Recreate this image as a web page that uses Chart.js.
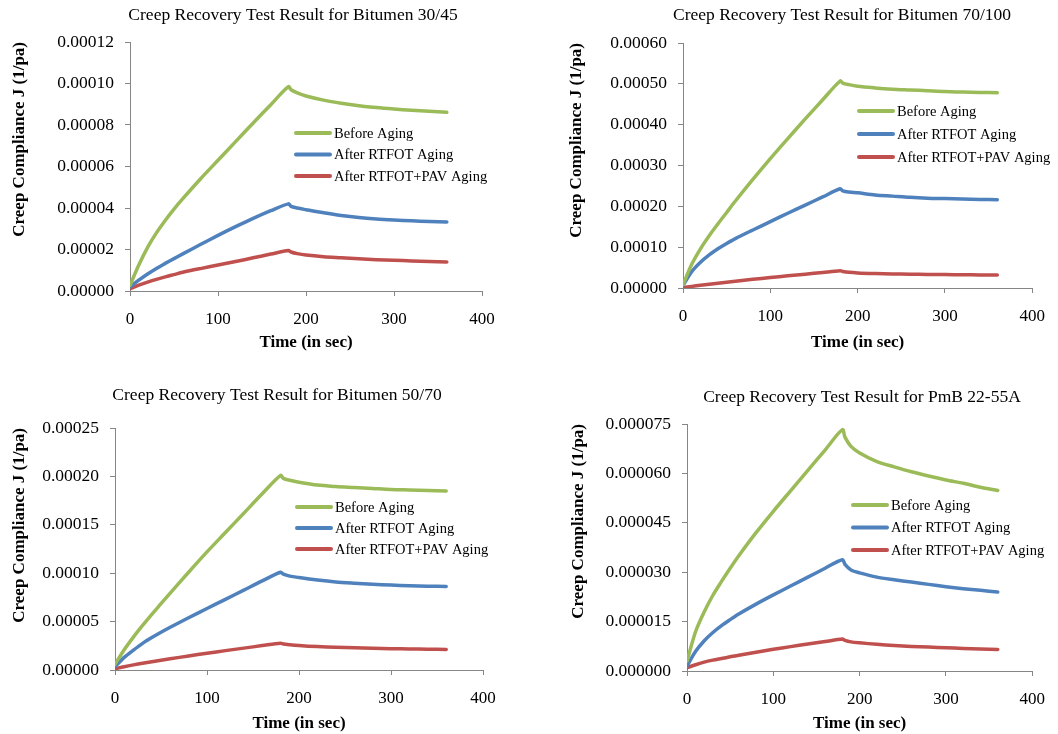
<!DOCTYPE html>
<html>
<head>
<meta charset="utf-8">
<script src="https://cdn.jsdelivr.net/npm/chart.js@4.4.1/dist/chart.umd.min.js"></script>
<style>
  html, body { margin: 0; padding: 0; background: #fff; }
  #wrap { position: relative; width: 1058px; height: 734px; }
  #wrap canvas { position: absolute; }
</style>
</head>
<body>
<div id="wrap">
  <canvas id="c3045" width="529" height="367" style="left:0;top:0"></canvas>
  <canvas id="c70100" width="529" height="367" style="left:529px;top:0"></canvas>
  <canvas id="c5070" width="529" height="367" style="left:0;top:367px"></canvas>
  <canvas id="cPmb" width="529" height="367" style="left:529px;top:367px"></canvas>
</div>
<script>
// Data (time in s, compliance in 1/Pa)
const times = [0, 10, 20, 30, 40, 50, 60, 80, 100, 120, 140, 160, 180, 183, 190, 200, 220, 240, 260, 280, 300, 320, 340, 360];
const seriesLabels = ['Before Aging', 'After RTFOT Aging', 'After RTFOT+PAV Aging'];
const seriesColors = ['#9BBB59', '#4F81BD', '#C0504D'];
const xTicks = [0, 100, 200, 300, 400];

// Bitumen 30/45
const b3045Before = [2.7e-6, 1.25e-5, 2.1e-5, 2.8e-5, 3.4e-5, 3.95e-5, 4.45e-5, 5.4e-5, 6.3e-5, 7.2e-5, 8.1e-5, 8.98e-5, 9.85e-5, 9.7e-5, 9.55e-5, 9.4e-5, 9.2e-5, 9.05e-5, 8.93e-5, 8.84e-5, 8.77e-5, 8.71e-5, 8.66e-5, 8.61e-5];
const b3045Rtfot = [1.9e-6, 5.2e-6, 8.2e-6, 1.09e-5, 1.33e-5, 1.56e-5, 1.79e-5, 2.24e-5, 2.68e-5, 3.1e-5, 3.5e-5, 3.87e-5, 4.2e-5, 4.08e-5, 4.0e-5, 3.92e-5, 3.77e-5, 3.64e-5, 3.54e-5, 3.47e-5, 3.42e-5, 3.38e-5, 3.35e-5, 3.33e-5];
const b3045Pav = [1.1e-6, 2.8e-6, 4.3e-6, 5.6e-6, 6.8e-6, 7.9e-6, 9e-6, 1.08e-5, 1.25e-5, 1.42e-5, 1.6e-5, 1.78e-5, 1.95e-5, 1.88e-5, 1.8e-5, 1.73e-5, 1.65e-5, 1.6e-5, 1.55e-5, 1.51e-5, 1.48e-5, 1.45e-5, 1.42e-5, 1.4e-5];
const yTicks3045 = [0, 0.00002, 0.00004, 0.00006, 0.00008, 0.0001, 0.00012];

// Bitumen 70/100
const b70100Before = [8e-6, 5.8e-5, 9.6e-5, 1.28e-4, 1.57e-4, 1.85e-4, 2.13e-4, 2.66e-4, 3.17e-4, 3.66e-4, 4.14e-4, 4.61e-4, 5.07e-4, 5.02e-4, 4.98e-4, 4.94e-4, 4.9e-4, 4.87e-4, 4.85e-4, 4.83e-4, 4.81e-4, 4.8e-4, 4.79e-4, 4.78e-4];
const b70100Rtfot = [6.5e-6, 4.0e-5, 6.3e-5, 8.1e-5, 9.6e-5, 1.09e-4, 1.21e-4, 1.42e-4, 1.625e-4, 1.83e-4, 2.03e-4, 2.23e-4, 2.43e-4, 2.38e-4, 2.35e-4, 2.33e-4, 2.28e-4, 2.25e-4, 2.22e-4, 2.2e-4, 2.19e-4, 2.18e-4, 2.17e-4, 2.16e-4];
const b70100Pav = [1e-6, 4e-6, 6.8e-6, 9.4e-6, 1.19e-5, 1.43e-5, 1.66e-5, 2.12e-5, 2.56e-5, 2.98e-5, 3.39e-5, 3.8e-5, 4.2e-5, 4.05e-5, 3.85e-5, 3.7e-5, 3.55e-5, 3.45e-5, 3.38e-5, 3.32e-5, 3.28e-5, 3.24e-5, 3.2e-5, 3.18e-5];
const yTicks70100 = [0, 0.0001, 0.0002, 0.0003, 0.0004, 0.0005, 0.0006];

// Bitumen 50/70
const b5070Before = [6e-6, 2.1e-5, 3.4e-5, 4.6e-5, 5.75e-5, 6.85e-5, 7.95e-5, 1.01e-4, 1.22e-4, 1.42e-4, 1.62e-4, 1.82e-4, 2.01e-4, 1.98e-4, 1.96e-4, 1.94e-4, 1.91e-4, 1.895e-4, 1.885e-4, 1.875e-4, 1.865e-4, 1.86e-4, 1.855e-4, 1.85e-4];
const b5070Rtfot = [3.5e-6, 1.3e-5, 2.05e-5, 2.75e-5, 3.35e-5, 3.9e-5, 4.42e-5, 5.4e-5, 6.35e-5, 7.3e-5, 8.25e-5, 9.2e-5, 1.01e-4, 9.9e-5, 9.7e-5, 9.55e-5, 9.3e-5, 9.1e-5, 8.97e-5, 8.86e-5, 8.77e-5, 8.7e-5, 8.66e-5, 8.62e-5];
const b5070Pav = [1.2e-6, 3.4e-6, 5.3e-6, 7.0e-6, 8.6e-6, 1.01e-5, 1.16e-5, 1.45e-5, 1.73e-5, 2.0e-5, 2.26e-5, 2.52e-5, 2.77e-5, 2.68e-5, 2.6e-5, 2.52e-5, 2.42e-5, 2.35e-5, 2.3e-5, 2.25e-5, 2.2e-5, 2.18e-5, 2.15e-5, 2.13e-5];
const yTicks5070 = [0, 0.00005, 0.0001, 0.00015, 0.0002, 0.00025];

// PmB 22-55A
const pmbBefore = [3e-6, 1.2e-5, 1.8e-5, 2.3e-5, 2.72e-5, 3.12e-5, 3.5e-5, 4.2e-5, 4.85e-5, 5.47e-5, 6.09e-5, 6.71e-5, 7.33e-5, 7.1e-5, 6.82e-5, 6.62e-5, 6.36e-5, 6.2e-5, 6.05e-5, 5.92e-5, 5.8e-5, 5.7e-5, 5.58e-5, 5.48e-5];
const pmbRtfot = [1.5e-6, 6e-6, 9.2e-6, 1.17e-5, 1.38e-5, 1.56e-5, 1.73e-5, 2.03e-5, 2.31e-5, 2.58e-5, 2.85e-5, 3.12e-5, 3.38e-5, 3.24e-5, 3.07e-5, 2.98e-5, 2.85e-5, 2.77e-5, 2.7e-5, 2.63e-5, 2.56e-5, 2.5e-5, 2.45e-5, 2.4e-5];
const pmbPav = [1e-6, 1.9e-6, 2.7e-6, 3.3e-6, 3.8e-6, 4.3e-6, 4.8e-6, 5.7e-6, 6.6e-6, 7.4e-6, 8.2e-6, 8.95e-6, 9.7e-6, 9.3e-6, 8.85e-6, 8.55e-6, 8.1e-6, 7.75e-6, 7.45e-6, 7.25e-6, 7.05e-6, 6.85e-6, 6.7e-6, 6.56e-6];
const yTicksPmb = [0, 0.000015, 0.00003, 0.000045, 0.00006, 0.000075];

const SERIF = '"Times New Roman", "Liberation Serif", serif';
const AXIS_GRAY = '#868686';

// title + in-plot legend, drawn after the chart
const panelDecor = {
  id: 'panelDecor',
  afterDraw(chart, args, opts) {
    const ctx = chart.ctx;
    ctx.save();
    ctx.fillStyle = '#000';
    ctx.textBaseline = 'middle';
    ctx.font = '17.5px ' + SERIF;
    ctx.textAlign = 'center';
    ctx.fillText(opts.title, opts.titleX, opts.titleY);

    ctx.font = '14.5px ' + SERIF;
    ctx.textAlign = 'left';
    chart.data.datasets.forEach((ds, i) => {
      const y = opts.legendY + i * opts.legendGap;
      ctx.strokeStyle = ds.borderColor;
      ctx.lineWidth = 4;
      ctx.lineCap = 'round';
      ctx.beginPath();
      ctx.moveTo(opts.legendX, y);
      ctx.lineTo(opts.legendX + 34, y);
      ctx.stroke();
      ctx.fillText(ds.label, opts.legendX + 38, y + 1);
    });
    ctx.restore();
  }
};

function makePanel(id, p) {
  const W = 529, H = 367;
  const datasets = p.series.map((vals, i) => ({
    label: seriesLabels[i],
    data: times.map((t, k) => ({ x: t, y: vals[k] })),
    borderColor: seriesColors[i],
    backgroundColor: seriesColors[i],
    borderWidth: 3.5,
    borderJoinStyle: 'round',
    borderCapStyle: 'round',
    pointRadius: 0,
    tension: 0.3,
    fill: false
  }));

  new Chart(document.getElementById(id), {
    type: 'line',
    data: { datasets },
    plugins: [panelDecor],
    options: {
      responsive: false,
      animation: false,
      events: [],
      layout: { padding: { left: 0, top: p.top, right: W - p.right, bottom: 0 } },
      plugins: {
        legend: { display: false },
        tooltip: { enabled: false },
        panelDecor: p.decor
      },
      scales: {
        x: {
          type: 'linear',
          min: 0,
          max: 400,
          afterBuildTicks: s => { s.ticks = xTicks.map(v => ({ value: v })); },
          afterFit: s => { s.height = H - p.bottom; },
          ticks: { color: '#000', font: { family: SERIF, size: 17 }, padding: p.xTickPad, maxRotation: 0 },
          grid: { drawOnChartArea: false, drawTicks: true, tickLength: 5, color: AXIS_GRAY },
          border: { color: AXIS_GRAY, width: 1 },
          title: {
            display: true,
            text: 'Time (in sec)',
            color: '#000',
            font: { family: SERIF, size: 17, weight: 'bold' },
            padding: { top: 0, bottom: p.xTitlePad }
          }
        },
        y: {
          type: 'linear',
          min: p.yTicks[0],
          max: p.yTicks[p.yTicks.length - 1],
          afterBuildTicks: s => { s.ticks = p.yTicks.map(v => ({ value: v })); },
          afterFit: s => { s.width = p.left; },
          ticks: {
            color: '#000',
            font: { family: SERIF, size: 17.5 },
            padding: 11,
            callback: v => v.toFixed(p.decimals)
          },
          grid: { drawOnChartArea: false, drawTicks: true, tickLength: 5, color: AXIS_GRAY },
          border: { color: AXIS_GRAY, width: 1 },
          title: {
            display: true,
            align: 'end',
            text: 'Creep Compliance J (1/pa)',
            color: '#000',
            font: { family: SERIF, size: 17, weight: 'bold' },
            padding: { top: p.yTitlePad, bottom: 0 }
          }
        }
      }
    }
  });
}

makePanel('c3045', {
  series: [b3045Before, b3045Rtfot, b3045Pav], yTicks: yTicks3045, decimals: 5,
  left: 130, right: 482, top: 42, bottom: 291,
  xTickPad: 13, xTitlePad: 14, yTitlePad: 9,
  decor: { title: 'Creep Recovery Test Result for Bitumen 30/45', titleX: 293, titleY: 15,
           legendX: 296, legendY: 133, legendGap: 21.5 }
});

makePanel('c70100', {
  series: [b70100Before, b70100Rtfot, b70100Pav], yTicks: yTicks70100, decimals: 5,
  left: 154, right: 508, top: 43, bottom: 288,
  xTickPad: 13, xTitlePad: 14, yTitlePad: 37,
  decor: { title: 'Creep Recovery Test Result for Bitumen 70/100', titleX: 313, titleY: 15,
           legendX: 330, legendY: 111, legendGap: 23 }
});

makePanel('c5070', {
  series: [b5070Before, b5070Rtfot, b5070Pav], yTicks: yTicks5070, decimals: 5,
  left: 115, right: 483, top: 61, bottom: 303,
  xTickPad: 13, xTitlePad: 0, yTitlePad: 9,
  decor: { title: 'Creep Recovery Test Result for Bitumen 50/70', titleX: 277, titleY: 28,
           legendX: 297, legendY: 140, legendGap: 21 }
});

makePanel('cPmb', {
  series: [pmbBefore, pmbRtfot, pmbPav], yTicks: yTicksPmb, decimals: 6,
  left: 158, right: 507, top: 57, bottom: 304,
  xTickPad: 13, xTitlePad: 0, yTitlePad: 39,
  decor: { title: 'Creep Recovery Test Result for PmB 22-55A', titleX: 333, titleY: 30,
           legendX: 324, legendY: 138, legendGap: 22.5 }
});
</script>
</body>
</html>
